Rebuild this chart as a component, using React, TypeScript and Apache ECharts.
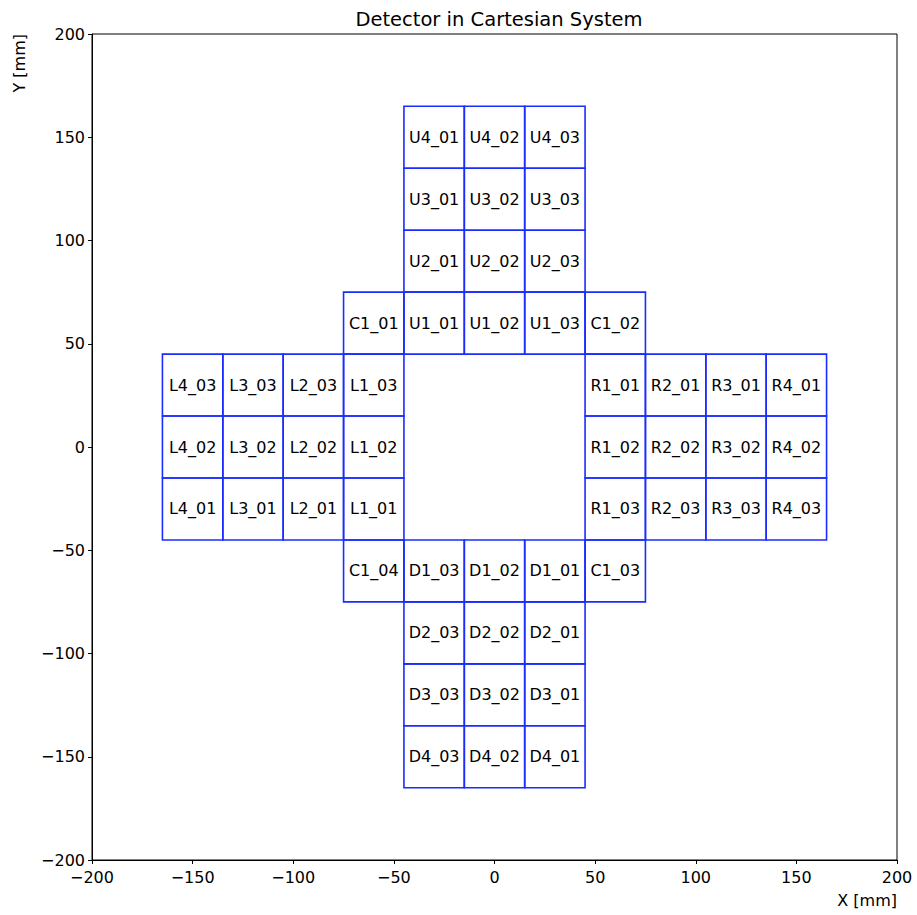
import React, { useEffect, useRef } from "react";
import * as echarts from "echarts";

// Each tile: name, xMin, yMin in mm; all tiles are 30 x 30 mm
const tileSize = 30;
const tileNames = [
  "U4_01", "U4_02", "U4_03",
  "U3_01", "U3_02", "U3_03",
  "U2_01", "U2_02", "U2_03",
  "U1_01", "U1_02", "U1_03",
  "C1_01", "C1_02", "C1_03", "C1_04",
  "L4_03", "L3_03", "L2_03", "L1_03",
  "L4_02", "L3_02", "L2_02", "L1_02",
  "L4_01", "L3_01", "L2_01", "L1_01",
  "R1_01", "R2_01", "R3_01", "R4_01",
  "R1_02", "R2_02", "R3_02", "R4_02",
  "R1_03", "R2_03", "R3_03", "R4_03",
  "D1_03", "D1_02", "D1_01",
  "D2_03", "D2_02", "D2_01",
  "D3_03", "D3_02", "D3_01",
  "D4_03", "D4_02", "D4_01",
];
const tileXMin = [
  -45, -15, 15,
  -45, -15, 15,
  -45, -15, 15,
  -45, -15, 15,
  -75, 45, 45, -75,
  -165, -135, -105, -75,
  -165, -135, -105, -75,
  -165, -135, -105, -75,
  45, 75, 105, 135,
  45, 75, 105, 135,
  45, 75, 105, 135,
  -45, -15, 15,
  -45, -15, 15,
  -45, -15, 15,
  -45, -15, 15,
];
const tileYMin = [
  135, 135, 135,
  105, 105, 105,
  75, 75, 75,
  45, 45, 45,
  45, 45, -75, -75,
  15, 15, 15, 15,
  -15, -15, -15, -15,
  -45, -45, -45, -45,
  15, 15, 15, 15,
  -15, -15, -15, -15,
  -45, -45, -45, -45,
  -75, -75, -75,
  -105, -105, -105,
  -135, -135, -135,
  -165, -165, -165,
];
const axisTicks = [-200, -150, -100, -50, 0, 50, 100, 150, 200];

const FONT = "DejaVu Sans";
const fmt = (v: number) => String(v).replace("-", "\u2212");

export default function App() {
  const ref = useRef<HTMLDivElement>(null);
  useEffect(() => {
    if (!ref.current) return;
    const chart = echarts.init(ref.current, null, { renderer: "svg" });
    const data = tileNames.map((n, i) => [tileXMin[i], tileYMin[i], tileSize, n]);
    const axisCommon = {
      type: "value",
      min: axisTicks[0],
      max: axisTicks[axisTicks.length - 1],
      interval: 50,
      axisLine: { show: true, onZero: false, lineStyle: { color: "#000" } },
      axisTick: { show: true, length: 4, lineStyle: { color: "#000" } },
      splitLine: { show: false },
    };
    chart.setOption({
      animation: false,
      backgroundColor: "#ffffff",
      title: {
        text: "Detector in Cartesian System",
        left: 494,
        top: 4,
        textAlign: "center",
        textStyle: { fontFamily: FONT, fontSize: 19.5, fontWeight: "normal", color: "#000" },
      },
      grid: { left: 92, right: 20, top: 34, bottom: 55, show: true, borderColor: "#000", borderWidth: 1 },
      xAxis: {
        ...axisCommon,
        axisLabel: { formatter: fmt, fontFamily: FONT, fontSize: 16, color: "#000", margin: 9 },
        name: "X [mm]",
        nameLocation: "end",
        nameGap: 0,
        nameTextStyle: {
          fontFamily: FONT, fontSize: 16, color: "#000",
          align: "right", verticalAlign: "top", padding: [32, 0, 0, 0],
        },
      },
      yAxis: {
        ...axisCommon,
        axisLabel: { formatter: fmt, fontFamily: FONT, fontSize: 16, color: "#000", margin: 7 },
      },
      graphic: [
        {
          type: "text",
          x: 11,
          y: 34,
          rotation: Math.PI / 2,
          style: {
            text: "Y [mm]",
            fontFamily: FONT,
            fontSize: 16,
            fill: "#000",
            align: "right",
            verticalAlign: "top",
          },
        },
      ],
      series: [
        {
          type: "custom",
          coordinateSystem: "cartesian2d",
          data,
          encode: { x: 0, y: 1 },
          renderItem: (params: any, api: any) => {
            const x0 = api.value(0);
            const y0 = api.value(1);
            const s = api.value(2);
            const p0 = api.coord([x0, y0 + s]);
            const p1 = api.coord([x0 + s, y0]);
            const name = data[params.dataIndex][3] as string;
            return {
              type: "group",
              children: [
                {
                  type: "rect",
                  shape: { x: p0[0], y: p0[1], width: p1[0] - p0[0], height: p1[1] - p0[1] },
                  style: { fill: "none", stroke: "#1a2cff", lineWidth: 1.6 },
                },
                {
                  type: "text",
                  style: {
                    text: name,
                    x: (p0[0] + p1[0]) / 2,
                    y: (p0[1] + p1[1]) / 2,
                    align: "center",
                    verticalAlign: "middle",
                    fontFamily: FONT,
                    fontSize: 16,
                    fill: "#000",
                  },
                },
              ],
            };
          },
        },
      ],
    });
    return () => chart.dispose();
  }, []);
  return (
    <div
      ref={ref}
      style={{ position: "fixed", left: 0, top: 0, width: 917, height: 915 }}
    />
  );
}
